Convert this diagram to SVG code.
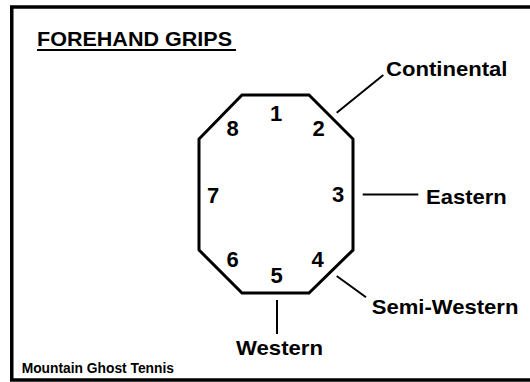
<svg xmlns="http://www.w3.org/2000/svg" width="530" height="382" viewBox="0 0 530 382">
<style>
text{font-family:"Liberation Sans",Arial,sans-serif;font-weight:bold;fill:#000}
.num{font-size:22px;text-anchor:middle}
.lab{font-size:21px}
.conn line{stroke:#000;stroke-width:2}
</style>
<rect width="530" height="382" fill="#fff"/>
<rect id="frame" x="11.75" y="7" width="540" height="373" fill="none" stroke="#000" stroke-width="3.5"/>
<g id="title">
<text x="37" y="45.7" font-size="20" textLength="195" lengthAdjust="spacingAndGlyphs">FOREHAND GRIPS</text>
<line x1="37" y1="50" x2="236" y2="50" stroke="#000" stroke-width="2"/>
</g>
<g id="octagon">
<polygon points="242,95 309,95 353,139 353,250 309,293 242,293 199,250 199,139" fill="none" stroke="#000" stroke-width="3"/>
<text class="num" x="276" y="121">1</text>
<text class="num" x="318.5" y="136">2</text>
<text class="num" x="338" y="202">3</text>
<text class="num" x="317.7" y="267">4</text>
<text class="num" x="276.7" y="283">5</text>
<text class="num" x="232.5" y="267">6</text>
<text class="num" x="213" y="203">7</text>
<text class="num" x="232.5" y="136">8</text>
</g>
<g class="conn" id="connectors">
<line x1="336.7" y1="112.7" x2="383.3" y2="75"/>
<line x1="362.7" y1="194.5" x2="418.3" y2="194.5"/>
<line x1="336.7" y1="276" x2="366" y2="297.3"/>
<line x1="277" y1="300" x2="277" y2="334"/>
</g>
<g id="continental"><text class="lab" x="386" y="76" textLength="121.5" lengthAdjust="spacingAndGlyphs">Continental</text></g>
<g id="eastern"><text class="lab" x="426" y="204" textLength="80.7" lengthAdjust="spacingAndGlyphs">Eastern</text></g>
<g id="semiwestern"><text class="lab" x="371.7" y="314.3" textLength="146.7" lengthAdjust="spacingAndGlyphs">Semi-Western</text></g>
<g id="western"><text class="lab" x="236" y="355" textLength="87" lengthAdjust="spacingAndGlyphs">Western</text></g>
<g id="credit"><text x="21.7" y="373.3" font-size="14.5" textLength="152.3" lengthAdjust="spacingAndGlyphs">Mountain Ghost Tennis</text></g>
</svg>
